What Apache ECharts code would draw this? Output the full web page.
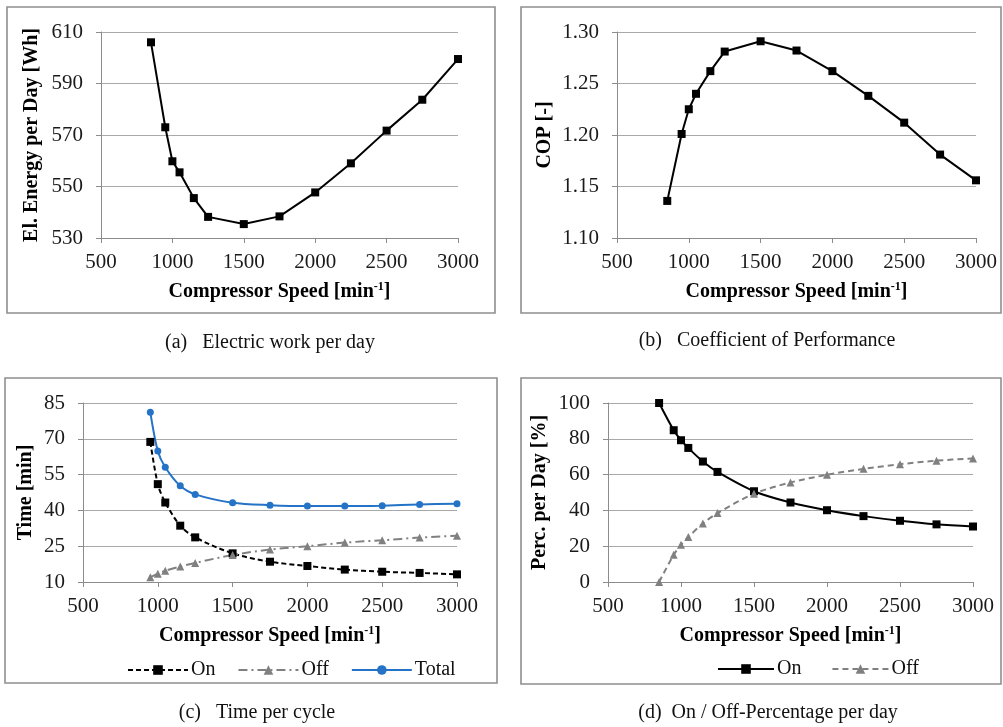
<!DOCTYPE html>
<html>
<head>
<meta charset="utf-8">
<script src="https://cdn.jsdelivr.net/npm/echarts@6/dist/echarts.min.js"></script>
<style>
  html, body { margin: 0; padding: 0; background: #fff; }
  #chart { width: 1003px; height: 727px; }
</style>
</head>
<body>
<div id="chart"></div>
<script>
// Compressor speed sweeps [min^-1]
const speedFull = [850, 950, 1000, 1050, 1150, 1250, 1500, 1750, 2000, 2250, 2500, 2750, 3000];
const speedCycle = [950, 1000, 1050, 1150, 1250, 1500, 1750, 2000, 2250, 2500, 2750, 3000];

// (a) electric energy per day [Wh]
const energyPerDay = [606.0, 573.0, 559.8, 555.5, 545.5, 538.2, 535.4, 538.4, 547.7, 559.0, 571.7, 583.7, 599.5];
// (b) coefficient of performance [-]
const cop = [1.136, 1.201, 1.225, 1.240, 1.262, 1.281, 1.291, 1.282, 1.262, 1.238, 1.212, 1.181, 1.156];
// (c) time per cycle [min]
const timeOn = [68.7, 51.0, 43.3, 33.6, 28.7, 22.0, 18.5, 16.7, 15.2, 14.3, 13.8, 13.2];
const timeOff = [12.0, 13.5, 14.7, 16.5, 18.0, 21.3, 23.6, 25.0, 26.5, 27.5, 28.6, 29.4];
const timeTotal = [81.1, 64.9, 58.1, 50.3, 46.7, 43.2, 42.2, 41.8, 41.8, 42.0, 42.5, 42.8];
// (d) share of the day the compressor is on / off [%]
const percOn = [100, 84.8, 79.2, 74.9, 67.3, 61.5, 50.7, 44.4, 40.1, 36.8, 34.2, 32.2, 31.0];
const percOff = [0, 15.2, 20.8, 25.1, 32.7, 38.5, 49.3, 55.6, 59.9, 63.2, 65.8, 67.8, 69.0];

// Axis tick labels
const speedTicks = [500, 1000, 1500, 2000, 2500, 3000];
const energyTicks = [530, 550, 570, 590, 610];
const copTicks = [1.10, 1.15, 1.20, 1.25, 1.30];
const timeTicks = [10, 25, 40, 55, 70, 85];
const percTicks = [0, 20, 40, 60, 80, 100];

const captions = [
  '(a)\u00a0\u00a0\u00a0Electric work per day',
  '(b)\u00a0\u00a0\u00a0Coefficient of Performance',
  '(c)\u00a0\u00a0\u00a0Time per cycle',
  '(d)\u00a0\u00a0On / Off-Percentage per day'
];

const SERIF = '"Liberation Serif", "Times New Roman", serif';
const GRID_GREY = '#a9a9a9';
const AXIS_GREY = '#8c8c8c';
const BLUE = '#2473c6';
const GREY = '#808080';

const pairs = (xs, ys) => xs.map((x, i) => [x, ys[i]]);

function xAxisFor(gridIndex) {
  return {
    type: 'value', gridIndex,
    min: speedTicks[0], max: speedTicks[speedTicks.length - 1], interval: speedTicks[1] - speedTicks[0],
    name: 'Compressor Speed [min{sup|-1}]',
    nameLocation: 'middle', nameGap: 43,
    nameTextStyle: {
      fontFamily: SERIF, fontSize: 20, fontWeight: 'bold', color: '#000', lineHeight: 22,
      rich: { sup: { fontFamily: SERIF, fontSize: 12, fontWeight: 'bold', color: '#000', verticalAlign: 'top', lineHeight: 14 } }
    },
    axisLine: { show: true, lineStyle: { color: AXIS_GREY, width: 1 } },
    axisTick: { show: true, length: 5, lineStyle: { color: AXIS_GREY } },
    axisLabel: { fontFamily: SERIF, fontSize: 21, color: '#1a1a1a', margin: 14, formatter: v => String(v) },
    splitLine: { show: false }
  };
}

function yAxisFor(gridIndex, ticks, name, nameGap, fmt) {
  return {
    type: 'value', gridIndex,
    min: ticks[0], max: ticks[ticks.length - 1], interval: ticks[1] - ticks[0],
    name, nameLocation: 'middle', nameGap,
    nameTextStyle: { fontFamily: SERIF, fontSize: 20, fontWeight: 'bold', color: '#000' },
    axisLine: { show: true, lineStyle: { color: AXIS_GREY, width: 1 } },
    axisTick: { show: true, length: 5, lineStyle: { color: AXIS_GREY } },
    axisLabel: { fontFamily: SERIF, fontSize: 21, color: '#1a1a1a', margin: 18, formatter: fmt || (v => String(v)) },
    splitLine: { show: true, lineStyle: { color: GRID_GREY, width: 1 } }
  };
}

const chart = echarts.init(document.getElementById('chart'), null, { renderer: 'canvas' });

const boxStyle = { fill: 'none', stroke: '#8f8f8f', lineWidth: 1.6 };

chart.setOption({
  animation: false,
  backgroundColor: '#fff',
  graphic: [
    { type: 'rect', shape: { x: 7, y: 7, width: 488, height: 306 }, style: boxStyle, silent: true },
    { type: 'rect', shape: { x: 521, y: 7, width: 480, height: 306 }, style: boxStyle, silent: true },
    { type: 'rect', shape: { x: 5, y: 378, width: 492, height: 305 }, style: boxStyle, silent: true },
    { type: 'rect', shape: { x: 521, y: 378, width: 480, height: 306 }, style: boxStyle, silent: true }
  ],
  title: [
    { text: captions[0], left: 270, top: 333, textAlign: 'center' },
    { text: captions[1], left: 767, top: 331, textAlign: 'center' },
    { text: captions[2], left: 257, top: 703, textAlign: 'center' },
    { text: captions[3], left: 768, top: 703, textAlign: 'center' }
  ].map(t => Object.assign(t, {
    padding: 0,
    textStyle: { fontFamily: SERIF, fontSize: 20, fontWeight: 'normal', color: '#111' }
  })),
  grid: [
    { left: 101, top: 32, width: 357, height: 206 },
    { left: 617, top: 32, width: 359, height: 206 },
    { left: 83, top: 403, width: 374, height: 179 },
    { left: 608, top: 403, width: 365, height: 179 }
  ],
  xAxis: [xAxisFor(0), xAxisFor(1), xAxisFor(2), xAxisFor(3)],
  yAxis: [
    yAxisFor(0, energyTicks, 'El. Energy per Day [Wh]', 59),
    yAxisFor(1, copTicks, 'COP [-]', 62, v => v.toFixed(2)),
    yAxisFor(2, timeTicks, 'Time [min]', 47),
    yAxisFor(3, percTicks, 'Perc. per Day [%]', 58)
  ],
  legend: [
    {
      data: ['onCycle', 'offCycle', 'totalCycle'],
      formatter: n => ({ onCycle: 'On', offCycle: 'Off', totalCycle: 'Total' })[n],
      left: 122, top: 655, itemWidth: 60, itemHeight: 12, itemGap: 22,
      textStyle: { fontFamily: SERIF, fontSize: 20, color: '#111', padding: [0, 0, 0, -2] }
    },
    {
      data: ['onDay', 'offDay'],
      formatter: n => ({ onDay: 'On', offDay: 'Off' })[n],
      left: 712, top: 654, itemWidth: 56, itemHeight: 12, itemGap: 30,
      textStyle: { fontFamily: SERIF, fontSize: 20, color: '#111', padding: [0, 0, 0, -2] }
    }
  ],
  series: [
    {
      type: 'line', xAxisIndex: 0, yAxisIndex: 0, data: pairs(speedFull, energyPerDay),
      symbol: 'rect', symbolSize: 8, itemStyle: { color: '#000' },
      lineStyle: { color: '#000', width: 2 }
    },
    {
      type: 'line', xAxisIndex: 1, yAxisIndex: 1, data: pairs(speedFull, cop),
      symbol: 'rect', symbolSize: 8, itemStyle: { color: '#000' },
      lineStyle: { color: '#000', width: 2 }
    },
    {
      name: 'onCycle', type: 'line', xAxisIndex: 2, yAxisIndex: 2, data: pairs(speedCycle, timeOn),
      smooth: 0.3,
      symbol: 'rect', symbolSize: 8, itemStyle: { color: '#000' },
      lineStyle: { color: '#000', width: 2, type: [5, 3] }
    },
    {
      name: 'offCycle', type: 'line', xAxisIndex: 2, yAxisIndex: 2, data: pairs(speedCycle, timeOff),
      smooth: 0.3,
      symbol: 'triangle', symbolSize: 8, itemStyle: { color: GREY },
      lineStyle: { color: GREY, width: 2, type: [9, 4, 2, 4] }
    },
    {
      name: 'totalCycle', type: 'line', xAxisIndex: 2, yAxisIndex: 2, data: pairs(speedCycle, timeTotal),
      smooth: 0.3,
      symbol: 'circle', symbolSize: 7, itemStyle: { color: BLUE },
      lineStyle: { color: BLUE, width: 2 }
    },
    {
      name: 'onDay', type: 'line', xAxisIndex: 3, yAxisIndex: 3, data: pairs(speedFull, percOn),
      smooth: 0.3,
      symbol: 'rect', symbolSize: 8, itemStyle: { color: '#000' },
      lineStyle: { color: '#000', width: 2 }
    },
    {
      name: 'offDay', type: 'line', xAxisIndex: 3, yAxisIndex: 3, data: pairs(speedFull, percOff),
      smooth: 0.3,
      symbol: 'triangle', symbolSize: 8, itemStyle: { color: GREY },
      lineStyle: { color: GREY, width: 2, type: [6, 4] }
    }
  ]
});
</script>
</body>
</html>
